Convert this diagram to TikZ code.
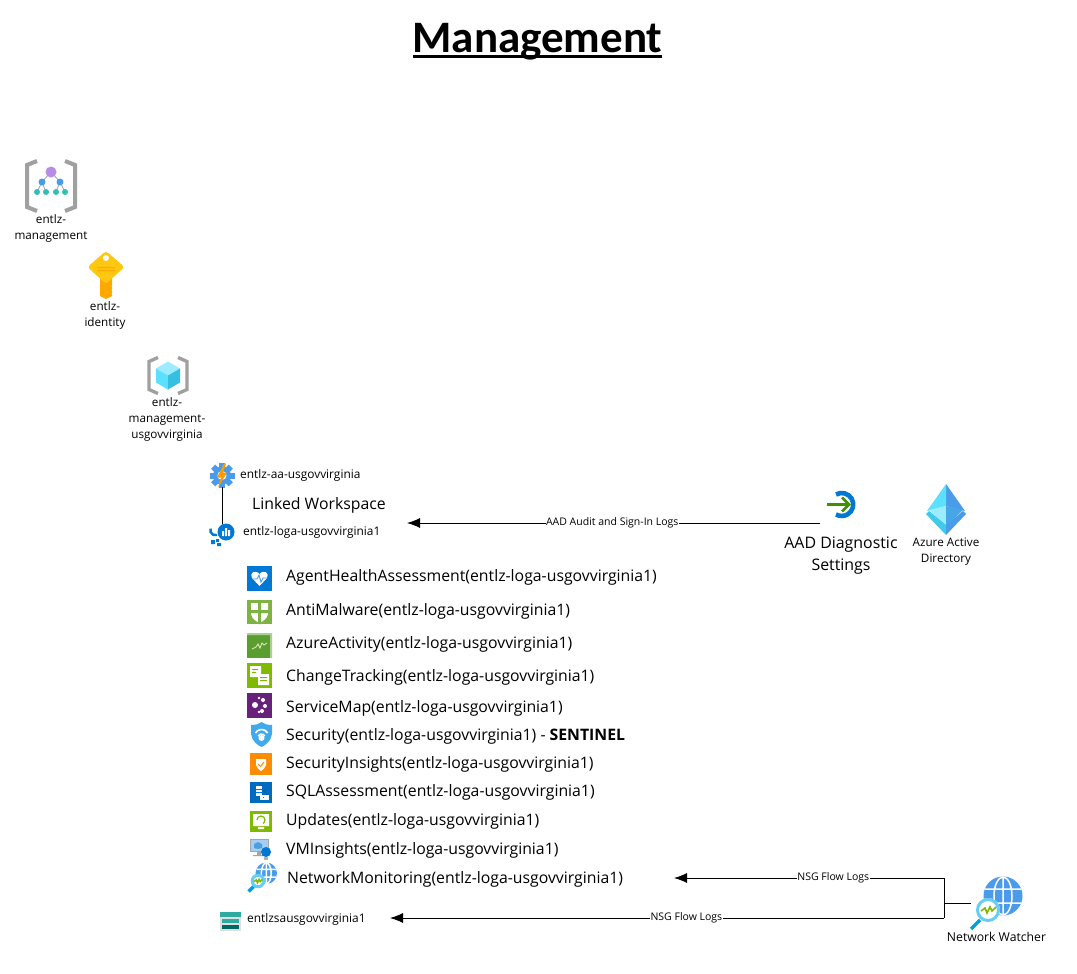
\documentclass[tikz,border=0pt]{standalone}
\usepackage{fontspec}
\setmainfont{Open Sans}
\newfontfamily\titlefont{Carlito}
\usetikzlibrary{arrows.meta}
\definecolor{azblue}{HTML}{0078D4}
\definecolor{azlight}{HTML}{4A9CEA}
\definecolor{bracketgray}{HTML}{A0A0A0}
\definecolor{leaf}{HTML}{7FBA00}
\definecolor{teal2}{HTML}{32BEB4}
\definecolor{malgreen}{HTML}{7CB342}
\definecolor{actgreen}{HTML}{5A9E2F}
\definecolor{mgpurple}{HTML}{B58CE8}
\definecolor{keyyellow}{HTML}{FFC70F}
\definecolor{keyorange}{HTML}{FFA800}
\definecolor{cubetop}{HTML}{9CEBFF}
\definecolor{cubeleft}{HTML}{5BE0FF}
\definecolor{cuberight}{HTML}{35BFE0}
\definecolor{mappurple}{HTML}{68217A}
\definecolor{insorange}{HTML}{FF8C00}
\tikzset{
  x=1pt,y=-1pt,
  lab/.style={font=\fontsize{11.7}{16}\selectfont,align=center,inner sep=0,text=black},
  sidelab/.style={font=\fontsize{11.9}{14}\selectfont,anchor=west,inner sep=0},
  wslab/.style={font=\fontsize{15.8}{18}\selectfont,anchor=west,inner sep=0},
  biglab/.style={font=\fontsize{15.9}{22}\selectfont,align=center,inner sep=0},
  flowlab/.style={font=\fontsize{10.5}{11}\selectfont,fill=white,inner sep=0.5},
  flow/.style={-{Latex[length=13,width=10]},line width=0.9},
  wire/.style={line width=1},
  brk/.style={draw=bracketgray,line width=3.4,line join=miter},
  mgicon/.pic={
    \draw[brk,line width=4] (-14,-25) -- (-24,-21) -- (-24,21) -- (-14,25);
    \draw[brk,line width=4] (14,-25) -- (24,-21) -- (24,21) -- (14,25);
    \draw[bracketgray,line width=0.8] (0,-14) -- (-9,-4) (0,-14) -- (9,-4) (-9,-4) -- (-14,6) (-9,-4) -- (-5,6) (9,-4) -- (5,6) (9,-4) -- (14,6);
    \fill[teal2] (-14,6) circle[radius=3] (-5,6) circle[radius=3] (5,6) circle[radius=3] (14,6) circle[radius=3];
    \fill[azlight] (-9,-4) circle[radius=3.5] (9,-4) circle[radius=3.5];
    \fill[mgpurple] (0,-14) circle[radius=5.5];
  },
  keyicon/.pic={
    \fill[keyorange] (-6,10) -- (6,10) -- (6,29) -- (0,32) -- (-6,29) -- cycle;
    \fill[white] (6.5,19) circle[radius=1] (6.5,23) circle[radius=1] (6.5,27) circle[radius=1];
    \fill[keyyellow,rounded corners=3] (0,-16) -- (18.5,0) -- (0,17) -- (-18.5,0) -- cycle;
    \fill[keyorange] (-9,0) rectangle (9,1) (-9,3) rectangle (9,4);
    \fill[white] (0,-9) circle[radius=3];
  },
  rgicon/.pic={
    \draw[brk] (-10,-18) -- (-19,-14) -- (-19,14) -- (-10,18);
    \draw[brk] (10,-18) -- (19,-14) -- (19,14) -- (10,18);
    \fill[cubetop] (0,-14) -- (12,-7) -- (0,0) -- (-12,-7) -- cycle;
    \fill[cubeleft] (-12,-7) -- (0,0) -- (0,14) -- (-12,7) -- cycle;
    \fill[cuberight] (12,-7) -- (0,0) -- (0,14) -- (12,7) -- cycle;
  },
  gearicon/.pic={
    \foreach \a in {0,45,...,315}
      \fill[azlight,rotate=\a] (-3,-12.5) rectangle (3,-7);
    \fill[azlight] (0,0) circle[radius=9];
    \fill[white] (0,0) circle[radius=4.5];
    \fill[orange!80!yellow] (2,-12) -- (-5,2) -- (-1,2) -- (-4,12) -- (5,-3) -- (1,-3) -- (4,-12) -- cycle;
  },
  logicon/.pic={
    \fill[azblue] (6,-3) circle[radius=8.5];
    \fill[white] (2,-4) rectangle (4,1) (5,-7) rectangle (7,1) (8,-5) rectangle (10,1);
    \draw[azblue,line width=2.4] (-3,0) arc[start angle=70,end angle=200,radius=5];
    \fill[azblue] (-9,5) rectangle (-5,9) (-4,4) rectangle (-1,7) (-3,8) rectangle (1,11);
  },
  agenticon/.pic={
    \fill[azblue] (0,0) rectangle (25,25);
    \fill[white] (12.5,20) -- (5,12) .. controls (2,7) and (8,3) .. (12.5,8) .. controls (17,3) and (23,7) .. (20,12) -- cycle;
    \draw[azlight,line width=0.9] (5,13) -- (10,13) -- (12,9) -- (14,16) -- (16,12) -- (20,12);
  },
  malwareicon/.pic={
    \fill[malgreen] (0,0) rectangle (25,24);
    \fill[white] (4,3) -- (21,3) -- (21,14) .. controls (20,19) and (16,21) .. (12.5,23) .. controls (9,21) and (5,19) .. (4,14) -- cycle;
    \fill[malgreen] (11,2) rectangle (14,24) (3,10) rectangle (22,13);
  },
  activityicon/.pic={
    \fill[actgreen] (0,0) rectangle (25,25);
    \fill[actgreen!50!white] (0,0) rectangle (25,2) (23,0) rectangle (25,25);
    \draw[white!70!leaf,line width=0.9] (5,16) -- (9,14) -- (11,11) -- (13,15) -- (15,10) -- (17,12) -- (20,10);
  },
  changeicon/.pic={
    \fill[leaf] (0,0) rectangle (25,25);
    \fill[white] (3,3) rectangle (14,14) (11,11) rectangle (22,22);
    \fill[leaf] (5,6) rectangle (11,7) (5,9) rectangle (9,10) (13,14) rectangle (20,15) (13,17) rectangle (20,18);
  },
  mapicon/.pic={
    \fill[mappurple] (0,0) rectangle (25,25);
    \fill[white] (8,12) circle[radius=3] (16,7) circle[radius=2] (18,13) circle[radius=2] (15,18) circle[radius=2];
    \fill[white] (12,5) circle[radius=1.3] (12,19) circle[radius=1.3];
  },
  shieldicon/.pic={
    \fill[azlight!85!cyan] (0,3) .. controls (5,3) and (8,2) .. (10.5,0) .. controls (13,2) and (16,3) .. (21,3) -- (21,12) .. controls (20,19) and (15,23) .. (10.5,25) .. controls (6,23) and (1,19) .. (0,12) -- cycle;
    \draw[white,line width=1.6] (4.5,11) arc[start angle=210,end angle=330,radius=7];
    \draw[white,line width=1.5] (7,14) arc[start angle=210,end angle=330,radius=4];
    \fill[white] (10.5,16) circle[radius=3];
  },
  insighticon/.pic={
    \fill[insorange] (0,0) rectangle (22,22);
    \fill[white] (6,6) -- (16,6) -- (16,12) .. controls (15,15) and (13,17) .. (11,18) .. controls (9,17) and (7,15) .. (6,12) -- cycle;
    \draw[insorange,line width=1] (8,11) -- (10.5,13.5) -- (14,9);
  },
  sqlicon/.pic={
    \fill[azblue!90!black] (0,0) rectangle (22,21);
    \fill[white] (6,4) rectangle (12,14);
    \fill[azblue] (6,7) rectangle (12,8) (6,10) rectangle (12,11);
    \fill[white] (10,13) rectangle (19,18);
    \fill[azblue] (13,15) rectangle (14,16);
  },
  updateicon/.pic={
    \fill[leaf] (0,0) rectangle (22,21);
    \fill[white] (3,3) rectangle (19,15) (8,16) rectangle (14,18);
    \draw[leaf,line width=1.2] (7,9) arc[start angle=180,end angle=420,radius=4];
  },
  vmicon/.pic={
    \fill[gray!70] (0,0) rectangle (19,13);
    \fill[azlight!50!white] (1,1) rectangle (18,12);
    \fill[gray!70] (7,13) rectangle (11,16) (3,16) rectangle (15,17);
    \fill[azblue!70] (8,3) -- (12,5) -- (12,9) -- (8,10) -- (4,9) -- (4,5) -- cycle;
    \fill[azblue] (16,13) circle[radius=5];
    \fill[gray!60] (14,18) rectangle (18,21);
  },
  watchicon/.pic={
    \begin{scope}[scale=#1]
      \fill[azlight] (15,-14) circle[radius=19.5];
      \draw[white,line width=1.5] (15,-14) ellipse[x radius=9,y radius=19] (15,-33.5) -- (15,5.5) (-3,-21) -- (33,-21) (-3,-7) -- (33,-7);
      \draw[azblue!70!cyan,line width=3.5] (-8,10) -- (-17,19);
      \fill[white] (0,0) circle[radius=12];
      \draw[cyan!60!white,line width=3] (0,0) circle[radius=10.5];
      \draw[leaf,line width=1.6] (-7,1) -- (-3,-2) -- (-1,3) -- (2,-3) -- (4,1) -- (8,-3);
    \end{scope}
  },
  storeicon/.pic={
    \fill[gray!25] (0,0) rectangle (21,19);
    \fill[teal2!90!black] (0,0) rectangle (21,5);
    \fill[teal2!90!black] (2,7) rectangle (19,11);
    \fill[teal!80!black] (2,13) rectangle (19,17);
  },
  aadicon/.pic={
    \fill[azlight] (0,0) -- (19,27) -- (0,22) -- cycle;
    \fill[cubeleft] (0,0) -- (-19,27) -- (0,22) -- cycle;
    \fill[cubetop] (-17,26) -- (0,22) -- (0,42) -- cycle;
    \fill[azlight!70!cuberight] (17,26) -- (0,22) -- (0,42) -- cycle;
    \fill[cuberight!70!cubeleft] (-20,30) -- (-17,27) -- (0,41) -- (0,51) -- cycle;
    \fill[azlight] (20,30) -- (17,27) -- (0,41) -- (0,51) -- cycle;
  },
  diagicon/.pic={
    \draw[azblue,line width=4.6] (-6,-10) arc[start angle=-120,end angle=120,radius=11.5];
    \draw[leaf!70!green!70!black,line width=2.6] (-15,0) -- (7,0);
    \draw[leaf!70!green!70!black,line width=2.6] (0,-7) -- (7,0) -- (0,7);
  },
}
\begin{document}
\begin{tikzpicture}
\useasboundingbox (0,0) rectangle (1077,974);
\fill[white] (0,0) rectangle (1077,974);

\node[font=\titlefont\bfseries\fontsize{45}{50}\selectfont,inner sep=0,anchor=base] (title) at (537.5,52.5) {Management};
\coordinate (ulA) at (413,56.5);
\coordinate (ulB) at (662,56.5);
\draw[line width=2.8] (ulA) -- (ulB);

% icons
\pic at (51,186) {mgicon};
\node[lab] (mglab) at (51,228) {entlz-\\management};
\pic at (106,267) {keyicon};
\node[lab] (keylab) at (105,315) {entlz-\\identity};
\pic at (168,375.5) {rgicon};
\node[lab] (rglab) at (167,419) {entlz-\\management-\\usgovvirginia};

\pic at (222,475.5) {gearicon};
\node[sidelab] (aalab) at (240,475) {entlz-aa-usgovvirginia};
\pic at (220,535) {logicon};
\node[sidelab] (logalab) at (243,532.5) {entlz-loga-usgovvirginia1};
\node[wslab] (linked) at (252,505.5) {Linked Workspace};
\coordinate (aaend) at (222,487);
\coordinate (logaend) at (222,524);
\draw[wire] (aaend) -- (logaend);

\pic at (247,566) {agenticon};
\node[wslab] (t1) at (286,577.5) {AgentHealthAssessment(entlz-loga-usgovvirginia1)};
\pic at (247,600) {malwareicon};
\node[wslab] (t2) at (286,611.5) {AntiMalware(entlz-loga-usgovvirginia1)};
\pic at (247,633) {activityicon};
\node[wslab] (t3) at (286,644.5) {AzureActivity(entlz-loga-usgovvirginia1)};
\pic at (247,663) {changeicon};
\node[wslab] (t4) at (286,677.5) {ChangeTracking(entlz-loga-usgovvirginia1)};
\pic at (247,693) {mapicon};
\node[wslab] (t5) at (286,708.5) {ServiceMap(entlz-loga-usgovvirginia1)};
\pic at (251,722) {shieldicon};
\node[wslab] (t6) at (286,736.5) {Security(entlz-loga-usgovvirginia1) - \textbf{SENTINEL}};
\pic at (250,753) {insighticon};
\node[wslab] (t7) at (286,764.5) {SecurityInsights(entlz-loga-usgovvirginia1)};
\pic at (250,782) {sqlicon};
\node[wslab] (t8) at (286,792.5) {SQLAssessment(entlz-loga-usgovvirginia1)};
\pic at (250,811) {updateicon};
\node[wslab] (t9) at (286,821.5) {Updates(entlz-loga-usgovvirginia1)};
\pic at (250,839) {vmicon};
\node[wslab] (t10) at (286,850.5) {VMInsights(entlz-loga-usgovvirginia1)};
\pic at (258,881) {watchicon={0.55}};
\node[wslab] (t11) at (287,879.5) {NetworkMonitoring(entlz-loga-usgovvirginia1)};
\pic at (220,912) {storeicon};
\node[sidelab] (salab) at (247,919) {entlzsausgovvirginia1};

\pic at (842,504.5) {diagicon};
\node[biglab] (diaglab) at (841,555.5) {AAD Diagnostic\\Settings};
\pic at (946,484) {aadicon};
\node[lab] (aadlab) at (946,552) {Azure Active\\Directory};
\pic at (988,910) {watchicon={1}};
\node[font=\fontsize{12.2}{14}\selectfont,inner sep=0] (nwlab) at (996.5,937) {Network Watcher};

% connectors
\coordinate (aadout) at (820,523);
\coordinate (logain) at (407,523);
\coordinate (nsgbus1) at (944,878);
\coordinate (nsgbus2) at (944,918);
\coordinate (nsgtee) at (944,903);
\coordinate (nwout) at (971,903);
\coordinate (nmin) at (674,878);
\coordinate (sain) at (390,918);
\draw[flow] (aadout) -- node[flowlab,pos=0.503] (l1) {AAD Audit and Sign-In Logs} (logain);
\draw[flow] (nsgbus1) -- node[flowlab,pos=0.41] (l2) {NSG Flow Logs} (nmin);
\draw[flow] (nsgbus2) -- node[flowlab,pos=0.465] (l3) {NSG Flow Logs} (sain);
\draw[wire] (nsgbus1) -- (nsgbus2);
\draw[wire] (nsgtee) -- (nwout);
\end{tikzpicture}
\end{document}
